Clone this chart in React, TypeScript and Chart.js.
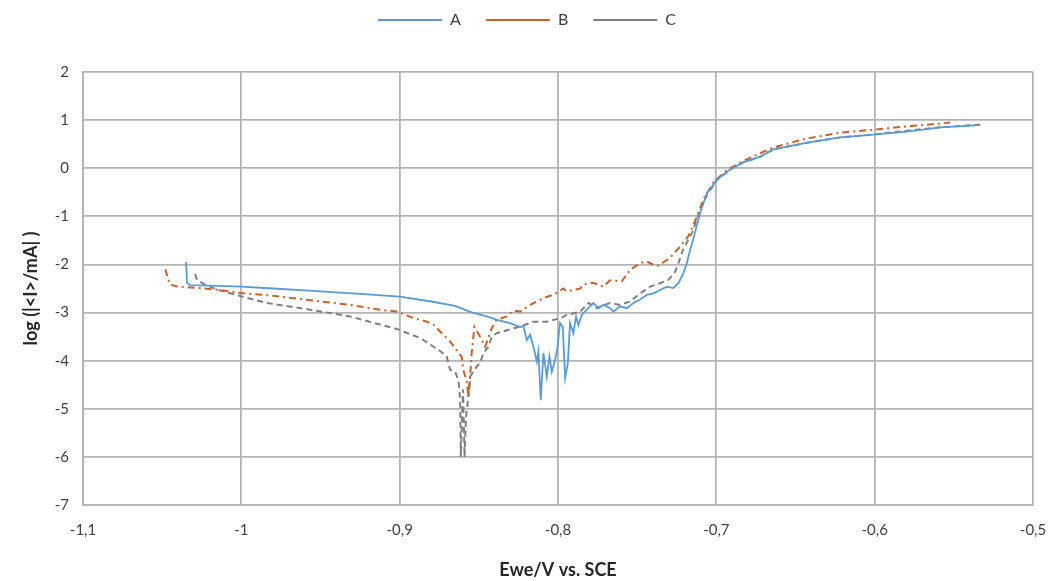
import React, { useEffect, useRef } from "react";
import { Chart, registerables } from "chart.js";

Chart.register(...registerables);

// Axis tick values
const xTickValues = [-1.1, -1.0, -0.9, -0.8, -0.7, -0.6, -0.5];
const yTickValues = [2, 1, 0, -1, -2, -3, -4, -5, -6, -7];

const seriesLabels = ["A", "B", "C"];

// Series A: [E (V vs SCE), log(|I|/mA)]
const seriesA: [number, number][] = [
  [-1.0349, -1.95], [-1.0343, -2.38], [-1.0324, -2.43], [-1.02, -2.44], [-1.0, -2.46],
  [-0.98, -2.5], [-0.96, -2.54], [-0.94, -2.58], [-0.92, -2.62], [-0.9, -2.67],
  [-0.88, -2.77], [-0.865, -2.86], [-0.854, -3.0], [-0.845, -3.08], [-0.8385, -3.15],
  [-0.8303, -3.22], [-0.8239, -3.3], [-0.8219, -3.28], [-0.8197, -3.57], [-0.8176, -3.46],
  [-0.8155, -3.71], [-0.8134, -4.02], [-0.8124, -3.81], [-0.8109, -4.82], [-0.8092, -3.84],
  [-0.8071, -4.33], [-0.8054, -3.91], [-0.8039, -4.23], [-0.8018, -3.98], [-0.8004, -3.74],
  [-0.7987, -3.22], [-0.797, -3.29], [-0.7955, -4.36], [-0.7938, -4.05], [-0.7924, -3.22],
  [-0.7903, -3.43], [-0.7886, -3.08], [-0.7871, -3.26], [-0.785, -3.05], [-0.7818, -2.94],
  [-0.7776, -2.8], [-0.7745, -2.91], [-0.7713, -2.84], [-0.7671, -2.91], [-0.765, -2.98],
  [-0.7608, -2.87], [-0.7565, -2.91], [-0.7524, -2.8], [-0.7481, -2.73], [-0.7439, -2.63],
  [-0.7397, -2.6], [-0.7355, -2.53], [-0.7313, -2.46], [-0.7271, -2.49], [-0.7239, -2.39],
  [-0.7208, -2.18], [-0.7186, -1.97], [-0.7166, -1.7], [-0.7147, -1.49], [-0.7102, -0.92],
  [-0.7058, -0.51], [-0.6995, -0.24], [-0.6932, -0.07], [-0.6831, 0.12], [-0.6723, 0.24],
  [-0.6641, 0.39], [-0.6426, 0.53], [-0.6218, 0.64], [-0.6009, 0.7], [-0.5795, 0.76],
  [-0.5586, 0.85], [-0.5365, 0.89],
];

const seriesB: [number, number][] = [
  [-1.048, -2.1], [-1.0463, -2.3], [-1.045, -2.42], [-1.04, -2.46], [-1.026, -2.49],
  [-1.0166, -2.52], [-0.999, -2.6], [-0.98, -2.65], [-0.963, -2.72], [-0.9313, -2.84],
  [-0.9124, -2.94], [-0.9018, -2.98], [-0.8915, -3.11], [-0.8827, -3.19], [-0.8787, -3.25],
  [-0.8734, -3.43], [-0.8682, -3.6], [-0.864, -3.78], [-0.8608, -3.92], [-0.8598, -4.19],
  [-0.8576, -4.44], [-0.8566, -4.75], [-0.8555, -4.33], [-0.8545, -3.84], [-0.8528, -3.3],
  [-0.8492, -3.5], [-0.846, -3.71], [-0.8418, -3.32], [-0.8387, -3.15], [-0.8324, -3.08],
  [-0.8282, -2.96], [-0.8239, -2.98], [-0.8176, -2.84], [-0.8092, -2.7], [-0.8029, -2.63],
  [-0.7966, -2.5], [-0.7944, -2.56], [-0.786, -2.5], [-0.7841, -2.42], [-0.7778, -2.38],
  [-0.7715, -2.46], [-0.7671, -2.33], [-0.7597, -2.35], [-0.7544, -2.11], [-0.7481, -1.97],
  [-0.7439, -1.94], [-0.7376, -2.04], [-0.7336, -1.96], [-0.7292, -1.86], [-0.7229, -1.63],
  [-0.7178, -1.42], [-0.7121, -1.0], [-0.7083, -0.65], [-0.702, -0.3], [-0.6932, -0.03],
  [-0.6787, 0.22], [-0.6641, 0.43], [-0.6426, 0.62], [-0.6218, 0.74], [-0.6009, 0.8],
  [-0.5795, 0.87], [-0.5586, 0.93], [-0.5523, 0.95],
];

const seriesC: [number, number][] = [
  [-1.0292, -2.2], [-1.028, -2.32], [-1.0229, -2.42], [-1.0147, -2.53], [-0.9991, -2.67],
  [-0.984, -2.8], [-0.9566, -2.94], [-0.9313, -3.08], [-0.9124, -3.25], [-0.9018, -3.34],
  [-0.8871, -3.53], [-0.8808, -3.66], [-0.8745, -3.8], [-0.8703, -3.91], [-0.8682, -4.19],
  [-0.865, -4.23], [-0.8629, -4.4], [-0.8618, -4.82], [-0.8614, -6.0], [-0.86, -4.6],
  [-0.859, -6.0], [-0.8581, -5.17], [-0.8566, -4.75], [-0.8555, -4.33], [-0.8513, -4.12],
  [-0.8492, -4.05], [-0.8471, -3.84], [-0.8439, -3.71], [-0.8418, -3.5], [-0.8387, -3.43],
  [-0.8303, -3.35], [-0.8239, -3.29], [-0.8155, -3.19], [-0.8071, -3.19], [-0.7987, -3.12],
  [-0.7944, -3.05], [-0.786, -2.98], [-0.7807, -2.8], [-0.7755, -2.91], [-0.7671, -2.8],
  [-0.7608, -2.84], [-0.7544, -2.77], [-0.7481, -2.6], [-0.7418, -2.46], [-0.7355, -2.39],
  [-0.7303, -2.32], [-0.726, -2.15], [-0.7239, -1.97], [-0.721, -1.69], [-0.7153, -1.34],
  [-0.7102, -0.86], [-0.7058, -0.55], [-0.6995, -0.24], [-0.6913, -0.03], [-0.6831, 0.12],
  [-0.6723, 0.24], [-0.6641, 0.39], [-0.6426, 0.53], [-0.6218, 0.64], [-0.6009, 0.7],
  [-0.5795, 0.78], [-0.5586, 0.85], [-0.5315, 0.91],
];

const FONT = "Lato, 'Open Sans', sans-serif";
const GRID = "#B4B4B4";

const fmt = (v: number) => String(v).replace(".", ",");

export default function App() {
  const ref = useRef<HTMLCanvasElement>(null);

  useEffect(() => {
    document.body.style.margin = "0";
    const legendSpacer = {
      id: "legendSpacer",
      beforeInit(chart: any) {
        const orig = chart.legend.fit;
        chart.legend.fit = function () {
          orig.call(this);
          this.height = 85;
        };
      },
    };

    const toXY = (s: [number, number][]) => s.map(([x, y]) => ({ x, y }));

    const chart = new Chart(ref.current as HTMLCanvasElement, {
      type: "scatter",
      data: {
        datasets: [
          {
            label: seriesLabels[0],
            data: toXY(seriesA),
            showLine: true,
            borderColor: "#5B9BD5",
            backgroundColor: "#5B9BD5",
            borderWidth: 1.8,
            pointRadius: 0,
            tension: 0,
          },
          {
            label: seriesLabels[1],
            data: toXY(seriesB),
            showLine: true,
            borderColor: "#C8622A",
            backgroundColor: "#C8622A",
            borderWidth: 2,
            borderDash: [7, 4, 2, 4],
            pointRadius: 0,
            tension: 0,
          },
          {
            label: seriesLabels[2],
            data: toXY(seriesC),
            showLine: true,
            borderColor: "#7F7F7F",
            backgroundColor: "#7F7F7F",
            borderWidth: 2,
            borderDash: [6, 4],
            pointRadius: 0,
            tension: 0,
          },
        ],
      },
      options: {
        responsive: false,
        animation: false,
        layout: { padding: { top: -13, left: 9, right: 6, bottom: 0 } },
        plugins: {
          tooltip: { enabled: false },
          legend: {
            position: "top",
            labels: {
              usePointStyle: true,
              pointStyle: "line",
              pointStyleWidth: 64,
              padding: 25,
              color: "#404040",
              font: { family: FONT, size: 16 },
            },
          },
        },
        scales: {
          x: {
            type: "linear",
            min: -1.1,
            max: -0.5,
            afterBuildTicks: (s: any) => {
              s.ticks = xTickValues.map((v) => ({ value: v }));
            },
            afterFit: (s: any) => {
              s.height = 76;
              s.paddingRight = 18;
            },
            ticks: {
              callback: (v: any) => fmt(Number(v)),
              padding: 16,
              color: "#404040",
              font: { family: FONT, size: 15 },
              maxRotation: 0,
            },
            grid: { color: GRID, lineWidth: 1.8, drawTicks: false },
            border: { color: GRID, width: 1.8 },
            title: {
              display: true,
              text: "Ewe/V vs. SCE",
              color: "#262626",
              font: { family: FONT, size: 18, weight: "bold" },
              padding: { top: 0, bottom: 0 },
            },
          },
          y: {
            type: "linear",
            min: -7,
            max: 2,
            afterBuildTicks: (s: any) => {
              s.ticks = yTickValues.map((v) => ({ value: v }));
            },
            afterFit: (s: any) => {
              s.width = 74;
            },
            ticks: {
              callback: (v: any) => fmt(Number(v)),
              padding: 14,
              color: "#404040",
              font: { family: FONT, size: 15 },
            },
            grid: { color: GRID, lineWidth: 1.8, drawTicks: false },
            border: { color: GRID, width: 1.8 },
            title: {
              display: true,
              text: "log (|<I>/mA| )",
              color: "#262626",
              font: { family: FONT, size: 18, weight: "bold" },
              padding: { top: 11, bottom: 0 },
            },
          },
        },
      },
      plugins: [legendSpacer],
    } as any);

    return () => chart.destroy();
  }, []);

  return (
    <canvas
      ref={ref}
      width={1051}
      height={581}
      style={{ display: "block", width: "1051px", height: "581px" }}
    />
  );
}
